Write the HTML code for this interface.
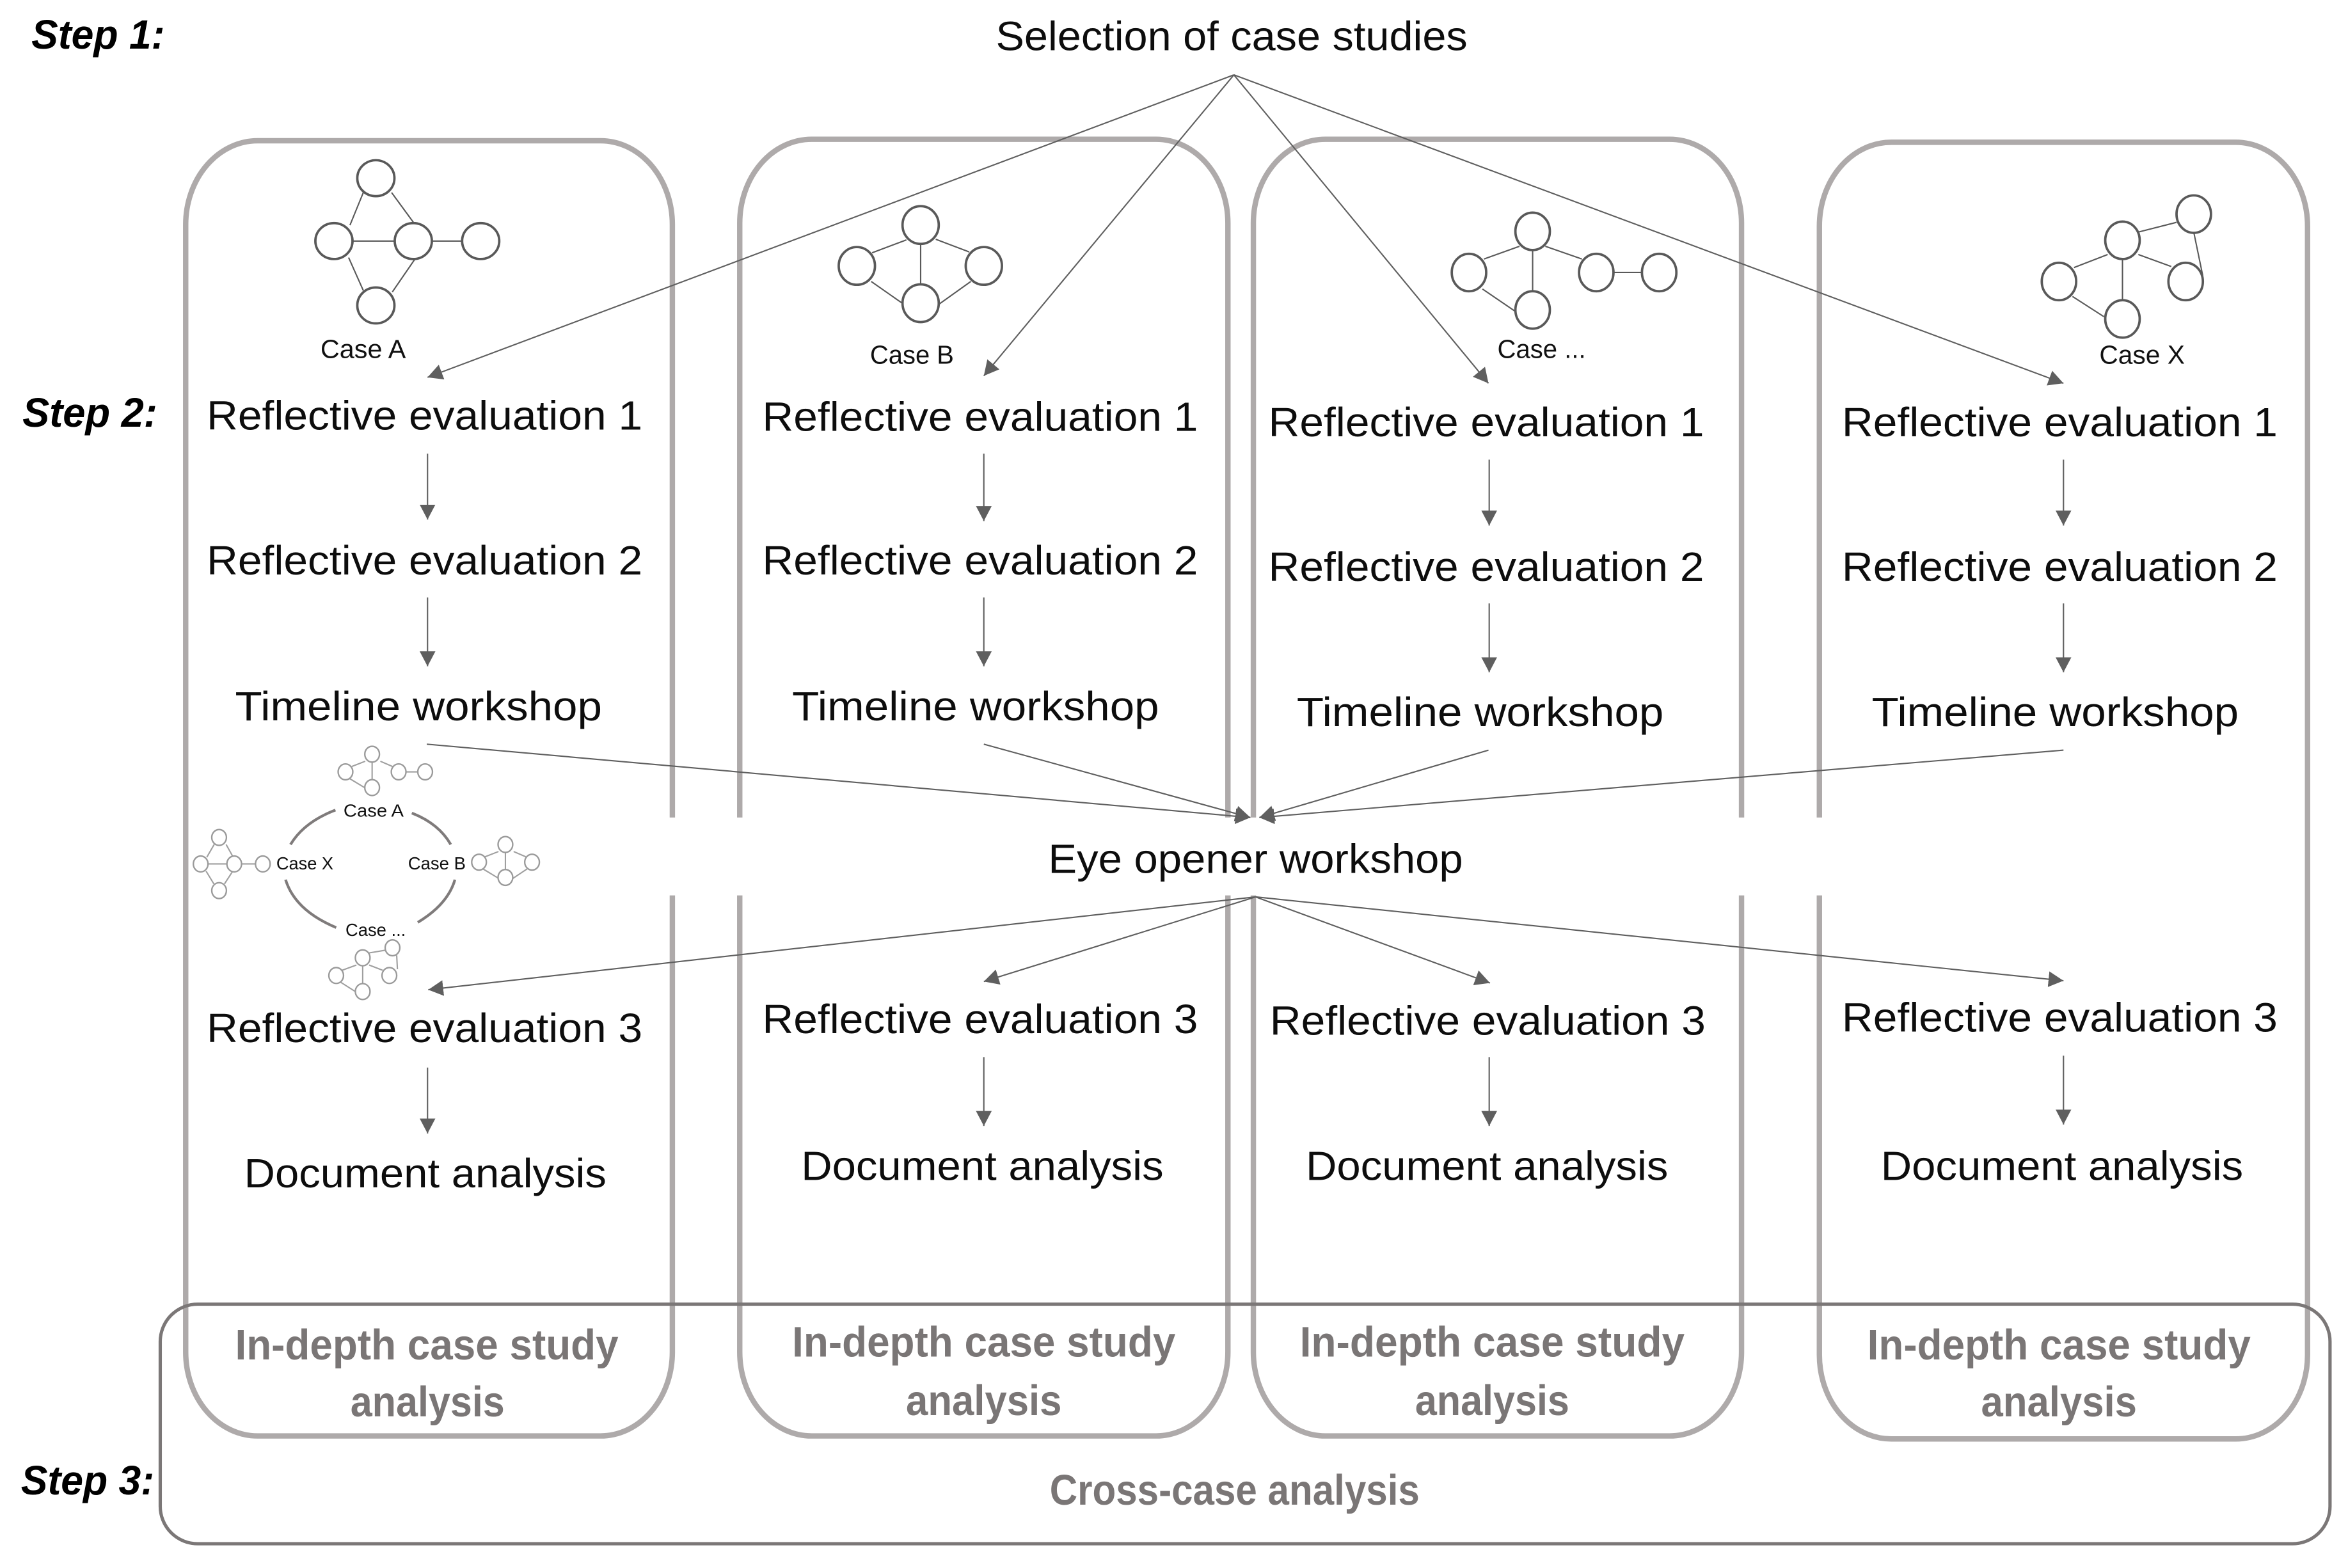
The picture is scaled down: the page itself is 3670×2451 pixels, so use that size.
<!DOCTYPE html>
<html><head><meta charset="utf-8"><style>
html,body{margin:0;padding:0;background:#fff}
svg{display:block}
text{font-family:"Liberation Sans",sans-serif}
.t{font-size:27.5px;fill:#0d0d0d}
.s{font-size:27.5px;font-weight:bold;font-style:italic;fill:#000}
.g{font-size:28.5px;font-weight:bold;fill:#7a7676}
.c{font-size:17.3px;fill:#111}
.m{font-size:12px;fill:#111}
.box{fill:none;stroke:#aeaaaa;stroke-width:3.6}
.ar{stroke:#5f5f5f;stroke-width:.9;fill:none;marker-end:url(#h)}
.n{fill:#fff;stroke:#595959;stroke-width:1.6}
.e{stroke:#595959;stroke-width:.9;fill:none}
.n2{fill:#fff;stroke:#9a9a9a;stroke-width:1}
.e2{stroke:#9f9f9f;stroke-width:.9;fill:none}
.arc{fill:none;stroke:#7f7b7b;stroke-width:1.8}
</style></head><body>
<svg xmlns="http://www.w3.org/2000/svg" width="3670" height="2451" viewBox="0 0 1568 1047.2">
<defs><marker id="h" markerUnits="userSpaceOnUse" markerWidth="10" markerHeight="10.5" refX="10" refY="5.25" orient="auto" viewBox="0 0 10 10.5"><path d="M0 0L10 5.25L0 10.5Z" fill="#5f5f5f"/></marker></defs>
<rect width="1568" height="1047.2" fill="#fff"/>

<!-- case boxes -->
<path class="box" d="M449 546V150A48 56 0 0 0 401 94H172A48 56 0 0 0 124 150V903A48 56 0 0 0 172 959H401A48 56 0 0 0 449 903V598"/>
<path class="box" d="M820 546V149A48 56 0 0 0 772 93H542A48 56 0 0 0 494 149V546M494 598V903A48 56 0 0 0 542 959H772A48 56 0 0 0 820 903V598"/>
<path class="box" d="M1163 546V149A48 56 0 0 0 1115 93H885A48 56 0 0 0 837 149V546M837 598V903A48 56 0 0 0 885 959H1115A48 56 0 0 0 1163 903V598"/>
<path class="box" d="M1215 546V151A48 56 0 0 1 1263 95H1493A48 56 0 0 1 1541 151V905A48 56 0 0 1 1493 961H1263A48 56 0 0 1 1215 905V598"/>
<rect x="107" y="871" width="1449" height="160" rx="25" ry="25" fill="none" stroke="#7b7777" stroke-width="2.2"/>

<!-- top arrows -->
<path class="ar" d="M824 50L285.5 252"/>
<path class="ar" d="M824 50L657 251"/>
<path class="ar" d="M824 50L994 256"/>
<path class="ar" d="M824 50L1378 256"/>
<!-- vertical arrows -->
<path class="ar" d="M285.5 303V347"/><path class="ar" d="M285.5 399V445"/>
<path class="ar" d="M657 303V348"/><path class="ar" d="M657 399V445"/>
<path class="ar" d="M994.5 307V351"/><path class="ar" d="M994.5 403V449"/>
<path class="ar" d="M1378 307V351"/><path class="ar" d="M1378 403V449"/>
<path class="ar" d="M285.5 713V757"/><path class="ar" d="M657 706V752"/><path class="ar" d="M994.5 706V752"/><path class="ar" d="M1378 705V751"/>
<!-- to eye opener -->
<path class="ar" d="M285 497L835 546"/>
<path class="ar" d="M657 497L835 546"/>
<path class="ar" d="M994 501L841 546"/>
<path class="ar" d="M1378 501L841 546"/>
<!-- from eye opener -->
<path class="ar" d="M838.5 599L286 661"/>
<path class="ar" d="M838.5 599L657 655.5"/>
<path class="ar" d="M838.5 599L995 656.5"/>
<path class="ar" d="M838.5 599L1378 655"/>

<!-- graph A -->
<path class="e" d="M242.6 128.6L233.7 150.4M261.5 128.6L276.2 148.7M223 161H321M232.8 172L242.6 194M276.9 173.3L262 195"/>
<ellipse class="n" cx="251" cy="119" rx="12.4" ry="12"/><ellipse class="n" cx="223" cy="161" rx="12.4" ry="12"/><ellipse class="n" cx="276" cy="161" rx="12.4" ry="12"/><ellipse class="n" cx="321" cy="161" rx="12.4" ry="12"/><ellipse class="n" cx="251" cy="204" rx="12.4" ry="12"/>
<!-- graph B -->
<path class="e" d="M605.3 160.2L582.4 168.8M624.9 159.8L647.3 168.3M614.8 150.3V202.5M581.8 188L602.1 202.2M648.3 188L627.3 203"/>
<ellipse class="n" cx="614.8" cy="150.3" rx="12.1" ry="12.6"/><ellipse class="n" cx="572.2" cy="177.6" rx="12.1" ry="12.6"/><ellipse class="n" cx="657" cy="177.6" rx="12.1" ry="12.6"/><ellipse class="n" cx="614.8" cy="202.5" rx="12.1" ry="12.6"/>
<!-- graph C -->
<path class="e" d="M991 173L1014.7 164.5M1032 164.5L1056.4 173M1023.5 154.5V207M1066 182H1108M990 193L1012 208"/>
<ellipse class="n" cx="1023.5" cy="154.5" rx="11.5" ry="12.5"/><ellipse class="n" cx="981" cy="182" rx="11.5" ry="12.5"/><ellipse class="n" cx="1066" cy="182" rx="11.5" ry="12.5"/><ellipse class="n" cx="1108" cy="182" rx="11.5" ry="12.5"/><ellipse class="n" cx="1023.5" cy="207" rx="11.5" ry="12.5"/>
<!-- graph D -->
<path class="e" d="M1428 155L1453.5 148.5M1465 155L1471 184M1407.5 170L1385 178.7M1428 170L1450 178M1417.4 160.5V213M1384 198L1405 211.5"/>
<ellipse class="n" cx="1417.4" cy="160.5" rx="11.5" ry="12.5"/><ellipse class="n" cx="1465" cy="143" rx="11.5" ry="12.5"/><ellipse class="n" cx="1375" cy="188" rx="11.5" ry="12.5"/><ellipse class="n" cx="1459.6" cy="188" rx="11.5" ry="12.5"/><ellipse class="n" cx="1417.4" cy="213" rx="11.5" ry="12.5"/>

<!-- small cycle -->
<path class="e2" d="M243.9 508.4L234.9 511.9M254 508.4L262.1 511.9M248.5 503.7V526M266.2 515.5H283.9M233.5 520L244.4 526.6"/>
<ellipse class="n2" cx="248.5" cy="503.7" rx="4.9" ry="5.3"/><ellipse class="n2" cx="230.7" cy="515.5" rx="4.9" ry="5.3"/><ellipse class="n2" cx="266.2" cy="515.5" rx="4.9" ry="5.3"/><ellipse class="n2" cx="283.9" cy="515.5" rx="4.9" ry="5.3"/><ellipse class="n2" cx="248.5" cy="526" rx="4.9" ry="5.3"/>
<path class="e2" d="M332.9 568.7L323.9 572.2M343 568.7L351.1 572.2M337.5 564V586M322.5 580.3L333.4 586.9M352 580.3L342 587"/>
<ellipse class="n2" cx="337.5" cy="564" rx="4.9" ry="5.3"/><ellipse class="n2" cx="319.9" cy="575.8" rx="4.9" ry="5.3"/><ellipse class="n2" cx="355.3" cy="575.8" rx="4.9" ry="5.3"/><ellipse class="n2" cx="337.5" cy="586" rx="4.9" ry="5.3"/>
<path class="e2" d="M143 564L138.1 572.5M151 564L155.3 571.7M134 577H175.5M137.6 581.8L142.8 590.3M155.3 582L149.9 590.3"/>
<ellipse class="n2" cx="146.3" cy="559.3" rx="4.9" ry="5.3"/><ellipse class="n2" cx="134" cy="577" rx="4.9" ry="5.3"/><ellipse class="n2" cx="156.4" cy="577" rx="4.9" ry="5.3"/><ellipse class="n2" cx="175.5" cy="577" rx="4.9" ry="5.3"/><ellipse class="n2" cx="146.3" cy="594.8" rx="4.9" ry="5.3"/>
<path class="e2" d="M246 636.5L258 634.5M264.9 638L265.4 647.3M238 644.5L228.5 648M246.5 644.5L255.5 648M242.2 639.7V662.2M227.5 656L238.5 663"/>
<ellipse class="n2" cx="262.1" cy="633" rx="4.9" ry="5.3"/><ellipse class="n2" cx="242.2" cy="639.7" rx="4.9" ry="5.3"/><ellipse class="n2" cx="224.5" cy="651.5" rx="4.9" ry="5.3"/><ellipse class="n2" cx="260" cy="651.5" rx="4.9" ry="5.3"/><ellipse class="n2" cx="242.2" cy="662.2" rx="4.9" ry="5.3"/>
<path class="arc" d="M194 564Q203 549 224 541"/>
<path class="arc" d="M275 543Q293 550 301 564"/>
<path class="arc" d="M190.7 587.5Q197 608 224.5 619.5"/>
<path class="arc" d="M303.8 587.5Q299 604 279 616"/>
<text class="m" x="229.4" y="545.4" textLength="40.2" lengthAdjust="spacingAndGlyphs">Case A</text>
<text class="m" x="184.5" y="580.7" textLength="38.1" lengthAdjust="spacingAndGlyphs">Case X</text>
<text class="m" x="272.5" y="580.7" textLength="38.5" lengthAdjust="spacingAndGlyphs">Case B</text>
<text class="m" x="230.7" y="625" textLength="40.3" lengthAdjust="spacingAndGlyphs">Case ...</text>

<!-- step labels -->
<text class="s" x="21" y="32.5" textLength="89" lengthAdjust="spacingAndGlyphs">Step 1:</text>
<text class="s" x="15" y="285" textLength="90" lengthAdjust="spacingAndGlyphs">Step 2:</text>
<text class="s" x="14" y="998" textLength="89" lengthAdjust="spacingAndGlyphs">Step 3:</text>

<text class="t" x="665" y="33.5" textLength="315" lengthAdjust="spacingAndGlyphs">Selection of case studies</text>
<text class="c" x="214" y="239" textLength="57" lengthAdjust="spacingAndGlyphs">Case A</text>
<text class="c" x="581" y="243" textLength="56" lengthAdjust="spacingAndGlyphs">Case B</text>
<text class="c" x="1000" y="239" textLength="59" lengthAdjust="spacingAndGlyphs">Case ...</text>
<text class="c" x="1402" y="243" textLength="57" lengthAdjust="spacingAndGlyphs">Case X</text>

<!-- column A -->
<text class="t" x="138" y="287" textLength="291" lengthAdjust="spacingAndGlyphs">Reflective evaluation 1</text>
<text class="t" x="138" y="383.7" textLength="291" lengthAdjust="spacingAndGlyphs">Reflective evaluation 2</text>
<text class="t" x="157" y="481" textLength="245" lengthAdjust="spacingAndGlyphs">Timeline workshop</text>
<text class="t" x="138" y="696" textLength="291" lengthAdjust="spacingAndGlyphs">Reflective evaluation 3</text>
<text class="t" x="163" y="793" textLength="242" lengthAdjust="spacingAndGlyphs">Document analysis</text>
<!-- column B -->
<text class="t" x="509" y="287.7" textLength="291" lengthAdjust="spacingAndGlyphs">Reflective evaluation 1</text>
<text class="t" x="509" y="383.7" textLength="291" lengthAdjust="spacingAndGlyphs">Reflective evaluation 2</text>
<text class="t" x="529" y="481" textLength="245" lengthAdjust="spacingAndGlyphs">Timeline workshop</text>
<text class="t" x="509" y="690" textLength="291" lengthAdjust="spacingAndGlyphs">Reflective evaluation 3</text>
<text class="t" x="535" y="788" textLength="242" lengthAdjust="spacingAndGlyphs">Document analysis</text>
<!-- column C -->
<text class="t" x="847" y="291.3" textLength="291" lengthAdjust="spacingAndGlyphs">Reflective evaluation 1</text>
<text class="t" x="847" y="388" textLength="291" lengthAdjust="spacingAndGlyphs">Reflective evaluation 2</text>
<text class="t" x="866" y="485" textLength="245" lengthAdjust="spacingAndGlyphs">Timeline workshop</text>
<text class="t" x="848" y="691" textLength="291" lengthAdjust="spacingAndGlyphs">Reflective evaluation 3</text>
<text class="t" x="872" y="788" textLength="242" lengthAdjust="spacingAndGlyphs">Document analysis</text>
<!-- column D -->
<text class="t" x="1230" y="291.3" textLength="291" lengthAdjust="spacingAndGlyphs">Reflective evaluation 1</text>
<text class="t" x="1230" y="388" textLength="291" lengthAdjust="spacingAndGlyphs">Reflective evaluation 2</text>
<text class="t" x="1250" y="485" textLength="245" lengthAdjust="spacingAndGlyphs">Timeline workshop</text>
<text class="t" x="1230" y="689" textLength="291" lengthAdjust="spacingAndGlyphs">Reflective evaluation 3</text>
<text class="t" x="1256" y="788" textLength="242" lengthAdjust="spacingAndGlyphs">Document analysis</text>

<text class="t" x="700" y="583" textLength="277" lengthAdjust="spacingAndGlyphs">Eye opener workshop</text>

<text class="g" x="157" y="908" textLength="256" lengthAdjust="spacingAndGlyphs">In-depth case study</text>
<text class="g" x="234" y="946" textLength="103" lengthAdjust="spacingAndGlyphs">analysis</text>
<text class="g" x="529" y="906" textLength="256" lengthAdjust="spacingAndGlyphs">In-depth case study</text>
<text class="g" x="605" y="945" textLength="104" lengthAdjust="spacingAndGlyphs">analysis</text>
<text class="g" x="868" y="906" textLength="257" lengthAdjust="spacingAndGlyphs">In-depth case study</text>
<text class="g" x="945" y="945" textLength="103" lengthAdjust="spacingAndGlyphs">analysis</text>
<text class="g" x="1247" y="908" textLength="256" lengthAdjust="spacingAndGlyphs">In-depth case study</text>
<text class="g" x="1323" y="946" textLength="104" lengthAdjust="spacingAndGlyphs">analysis</text>
<text class="g" x="701" y="1005" textLength="247" lengthAdjust="spacingAndGlyphs">Cross-case analysis</text>
</svg>
</body></html>
